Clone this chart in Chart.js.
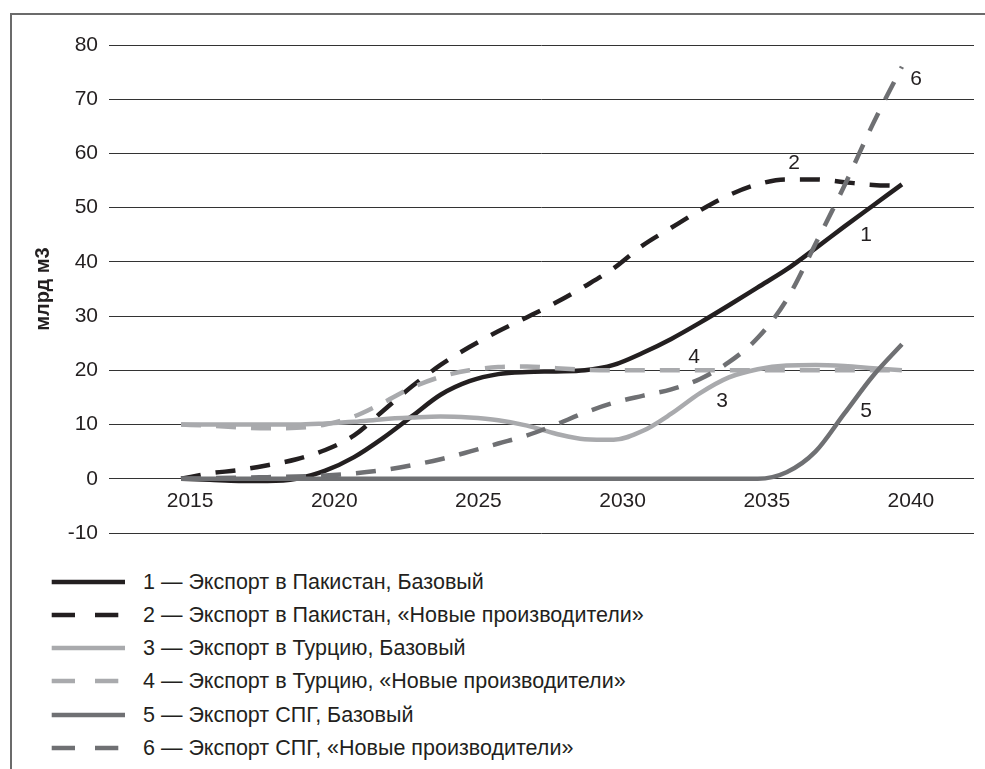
<!DOCTYPE html>
<html lang="ru">
<head>
<meta charset="utf-8">
<title>Экспорт газа</title>
<script src="https://cdn.jsdelivr.net/npm/chart.js@4.4.1/dist/chart.umd.min.js"></script>
<style>
  html, body { margin: 0; padding: 0; background: #fff; }
  body { width: 985px; height: 769px; position: relative; overflow: hidden; font-family: "Liberation Sans", Arial, sans-serif; color: #231f20; }
  #frame { position: absolute; left: 10px; top: 13px; right: -10px; bottom: -10px; border-left: 2px solid #6b6b6b; border-top: 2px solid #6b6b6b; }
  #myChart { position: absolute; left: 0; top: 0; }
  .row { position: absolute; left: 0; height: 34px; width: 700px; }
  .row svg { position: absolute; left: 0; top: 0; }
  .row span { position: absolute; left: 143px; top: 0; line-height: 34px; font-size: 21.5px; white-space: nowrap; }
</style>
</head>
<body>
<div id="frame"></div>
<canvas id="myChart" width="985" height="560"></canvas>
<div id="legend"></div>
<script>
const years = [2015, 2016, 2017, 2018, 2019, 2020, 2021, 2022, 2023, 2024, 2025, 2026, 2027,
               2028, 2029, 2030, 2031, 2032, 2033, 2034, 2035, 2036, 2037, 2038, 2039, 2040];
const tickYears = [2015, 2020, 2025, 2030, 2035, 2040];

const pakBase   = [0, -0.2, -0.4, -0.4, 0, 1.5, 4, 7.5, 11.5, 15.5, 18, 19.3, 19.7,
                   19.8, 20, 21, 23.2, 25.8, 28.8, 32, 35.3, 38.6, 42.5, 46.5, 50.4, 54.3];
const pakNew    = [0, 1, 1.6, 2.5, 3.6, 5.3, 8, 12.5, 17, 21, 24.3, 27.2, 29.8,
                   32.5, 35.5, 38.8, 43, 46.3, 49.5, 52.3, 54.3, 55.2, 55.2, 54.7, 54.2, 54];
const turBase   = [10, 10, 10, 10, 10, 10.2, 10.5, 11, 11.3, 11.5, 11.3, 10.8, 9.8,
                   8.3, 7.3, 7.2, 8.8, 12, 15.8, 18.7, 20.2, 20.9, 21, 20.8, 20.4, 20];
const turNew    = [10, 9.8, 9.5, 9.3, 9.4, 10, 11.5, 14, 16.8, 18.8, 20, 20.6, 20.7,
                   20.4, 20.1, 20, 20, 20, 20, 20, 20, 20, 20, 20, 20, 20];
const lngBase   = [0, 0, 0, 0, 0, 0, 0, 0, 0, 0, 0, 0, 0,
                   0, 0, 0, 0, 0, 0, 0, 0, 1.2, 5, 12, 19, 24.8];
const lngNew    = [0, 0.1, 0.2, 0.3, 0.4, 0.6, 1, 1.6, 2.5, 3.6, 5, 6.5, 8,
                   10, 12.2, 14, 15.3, 16.5, 18.4, 21.5, 26, 33, 43.3, 54, 65.5, 76];

const seriesNames = [
  '1 — Экспорт в Пакистан, Базовый',
  '2 — Экспорт в Пакистан, «Новые производители»',
  '3 — Экспорт в Турцию, Базовый',
  '4 — Экспорт в Турцию, «Новые производители»',
  '5 — Экспорт СПГ, Базовый',
  '6 — Экспорт СПГ, «Новые производители»'
];
const seriesValues = [pakBase, pakNew, turBase, turNew, lngBase, lngNew];
const seriesColors = ['#231f20', '#231f20', '#a9aaad', '#a9aaad', '#6f7073', '#6f7073'];
const seriesDashed = [false, true, false, true, false, true];

// номера линий на графике
const numberLabels = ['1', '2', '3', '4', '5', '6'];
const numberX = [2038.76, 2036.26, 2033.76, 2032.79, 2038.76, 2040.49];
const numberY = [45.0, 58.2, 14.25, 22.5, 12.4, 73.6];

const fontFamily = '"Liberation Sans", Arial, sans-serif';
const textColor = '#231f20';

const datasets = seriesValues.map((vals, i) => ({
  label: seriesNames[i],
  data: years.map((yr, j) => ({ x: yr, y: vals[j] })),
  borderColor: seriesColors[i],
  borderWidth: 4.5,
  borderDash: seriesDashed[i] ? [20, 15] : [],
  borderCapStyle: 'butt',
  pointRadius: 0,
  fill: false,
  cubicInterpolationMode: 'monotone',
  order: seriesValues.length - 1 - i
}));

const numbersPlugin = {
  id: 'lineNumbers',
  afterDatasetsDraw(chart) {
    const { ctx, scales: { x, y } } = chart;
    ctx.save();
    ctx.font = '21px ' + fontFamily;
    ctx.fillStyle = textColor;
    ctx.textAlign = 'center';
    ctx.textBaseline = 'middle';
    numberLabels.forEach((t, i) => {
      ctx.fillText(t, x.getPixelForValue(numberX[i]), y.getPixelForValue(numberY[i]));
    });
    ctx.restore();
  }
};

const ctx = document.getElementById('myChart').getContext('2d');
const myChart = new Chart(ctx, {
  type: 'line',
  data: { datasets: datasets },
  options: {
    responsive: false,
    animation: false,
    devicePixelRatio: 1,
    layout: { padding: { left: 0, right: 11, top: 45, bottom: 27 } },
    plugins: { legend: { display: false }, tooltip: { enabled: false } },
    scales: {
      x: {
        type: 'linear',
        min: 2012.5,
        max: 2042.5,
        position: { y: 0 },
        grid: { display: false, drawTicks: false },
        border: { display: false },
        ticks: {
          padding: 10,
          labelOffset: 9,
          color: textColor,
          font: { size: 21, family: fontFamily },
          maxRotation: 0,
          autoSkip: false,
          callback: v => String(v)
        },
        afterBuildTicks(scale) { scale.ticks = tickYears.map(v => ({ value: v })); },
        afterFit(scale) { scale.height = 0; }
      },
      y: {
        min: -10,
        max: 80,
        ticks: { stepSize: 10, padding: 11, color: textColor, font: { size: 21, family: fontFamily } },
        grid: { color: '#333333', lineWidth: 1, drawTicks: false },
        border: { display: false },
        title: {
          display: true,
          text: 'млрд м3',
          color: textColor,
          font: { size: 20, weight: 'bold', family: fontFamily },
          padding: { top: 31, bottom: 0 }
        },
        afterFit(scale) { scale.width = 109; }
      }
    }
  },
  plugins: [numbersPlugin]
});

// легенда
const legend = document.getElementById('legend');
seriesNames.forEach((name, i) => {
  const row = document.createElement('div');
  row.className = 'row';
  row.style.top = (581.7 + i * 33.2 - 17) + 'px';
  const dash = seriesDashed[i] ? 'stroke-dasharray="23.3 20"' : '';
  row.innerHTML = `
    <svg width="130" height="34"><line x1="51.7" y1="17" x2="125" y2="17" stroke="${seriesColors[i]}" stroke-width="4.7" ${dash}/></svg>
    <span>${name}</span>
  `;
  legend.appendChild(row);
});
</script>
</body>
</html>
